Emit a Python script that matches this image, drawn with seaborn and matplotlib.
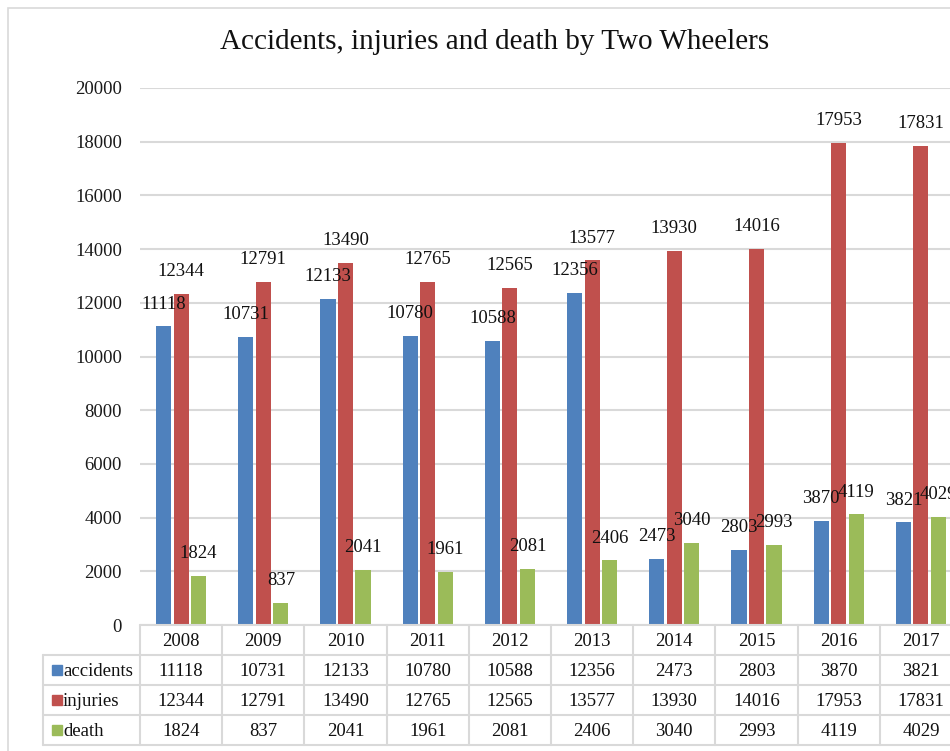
import pandas as pd
import matplotlib.pyplot as plt
import seaborn as sns
from matplotlib.patches import Rectangle

years = ["2008", "2009", "2010", "2011", "2012", "2013", "2014", "2015", "2016", "2017"]
accidents = [11118, 10731, 12133, 10780, 10588, 12356, 2473, 2803, 3870, 3821]
injuries = [12344, 12791, 13490, 12765, 12565, 13577, 13930, 14016, 17953, 17831]
death = [1824, 837, 2041, 1961, 2081, 2406, 3040, 2993, 4119, 4029]
series_names = ["accidents", "injuries", "death"]
colors = ["#4F81BD", "#C0504D", "#9BBB59"]
yticks = [0, 2000, 4000, 6000, 8000, 10000, 12000, 14000, 16000, 18000, 20000]

# long format for seaborn
df = pd.DataFrame({
    "year": years * 3,
    "series": [s for s in series_names for _ in years],
    "value": accidents + injuries + death,
})

sns.set_style("white")
plt.rcParams["font.family"] = ["Liberation Serif", "DejaVu Serif"]

W, H = 950, 751
fig = plt.figure(figsize=(W / 100, H / 100), dpi=100)
cat = 82.2  # px per category

# chart border (cropped on right/bottom in the reference)
fig.add_artist(Rectangle((8 / W, -0.1), 1.2, 1 - 8 / H + 0.1, transform=fig.transFigure,
                         fill=False, edgecolor="#d9d9d9", lw=1.2))

ax = fig.add_axes([140 / W, 1 - 625 / H, 10 * cat / W, (625 - 88) / H])
sns.barplot(data=df, x="year", y="value", hue="series", palette=colors,
            width=0.64, gap=0.14, ax=ax, legend=False, saturation=1, linewidth=0)

ax.set_xlim(-0.5, 9.5)
ax.set_ylim(0, 20000)
ax.set_yticks(yticks)
ax.set_yticklabels([str(t) for t in yticks], fontsize=13.5, color="#1a1a1a")
ax.tick_params(axis="y", length=0, pad=13)
ax.set_xticks([])
ax.set_xlabel("")
ax.set_ylabel("")
ax.grid(axis="y", color="#d9d9d9", lw=1.5)
ax.set_axisbelow(True)
for s in ax.spines.values():
    s.set_visible(False)

for cont in ax.containers:
    ax.bar_label(cont, fmt="%d", padding=10, fontsize=13.5, color="#111111")

fig.text(495 / W, 1 - 42 / H, "Accidents, injuries and death by Two Wheelers",
         ha="center", va="center", fontsize=21, color="#111111")

# data table under the chart
left_px = 43
tab = fig.add_axes([left_px / W, 1 - 745 / H, (140 + 10 * cat - left_px) / W, 120 / H])
x0 = -0.5 - (140 - left_px) / cat
tab.set_xlim(x0, 9.5)
tab.set_ylim(0, 4)
tab.axis("off")
lc = "#d9d9d9"
for yy in [0, 1, 2, 3]:
    tab.plot([x0, 9.5], [yy, yy], color=lc, lw=1.5, clip_on=False)
tab.plot([-0.5, 9.5], [4, 4], color=lc, lw=1.5, clip_on=False)
for i in range(11):
    tab.plot([i - 0.5, i - 0.5], [0, 4], color=lc, lw=1.5, clip_on=False)
tab.plot([x0, x0], [0, 3], color=lc, lw=1.5, clip_on=False)

for i, y in enumerate(years):
    tab.text(i, 3.45, y, ha="center", va="center", fontsize=13.5, color="#111111")
rows = [accidents, injuries, death]
for r, (name, vals, c) in enumerate(zip(series_names, rows, colors)):
    yy = 2.45 - r
    tab.plot([x0 + 14 / cat], [yy + 0.05], marker="s", markersize=6.5, color=c, clip_on=False)
    tab.text(x0 + 20 / cat, yy, name, ha="left", va="center", fontsize=13.5, color="#111111")
    for i, v in enumerate(vals):
        tab.text(i, yy, str(v), ha="center", va="center", fontsize=13.5, color="#111111")

fig.savefig("out.png", dpi=100)
